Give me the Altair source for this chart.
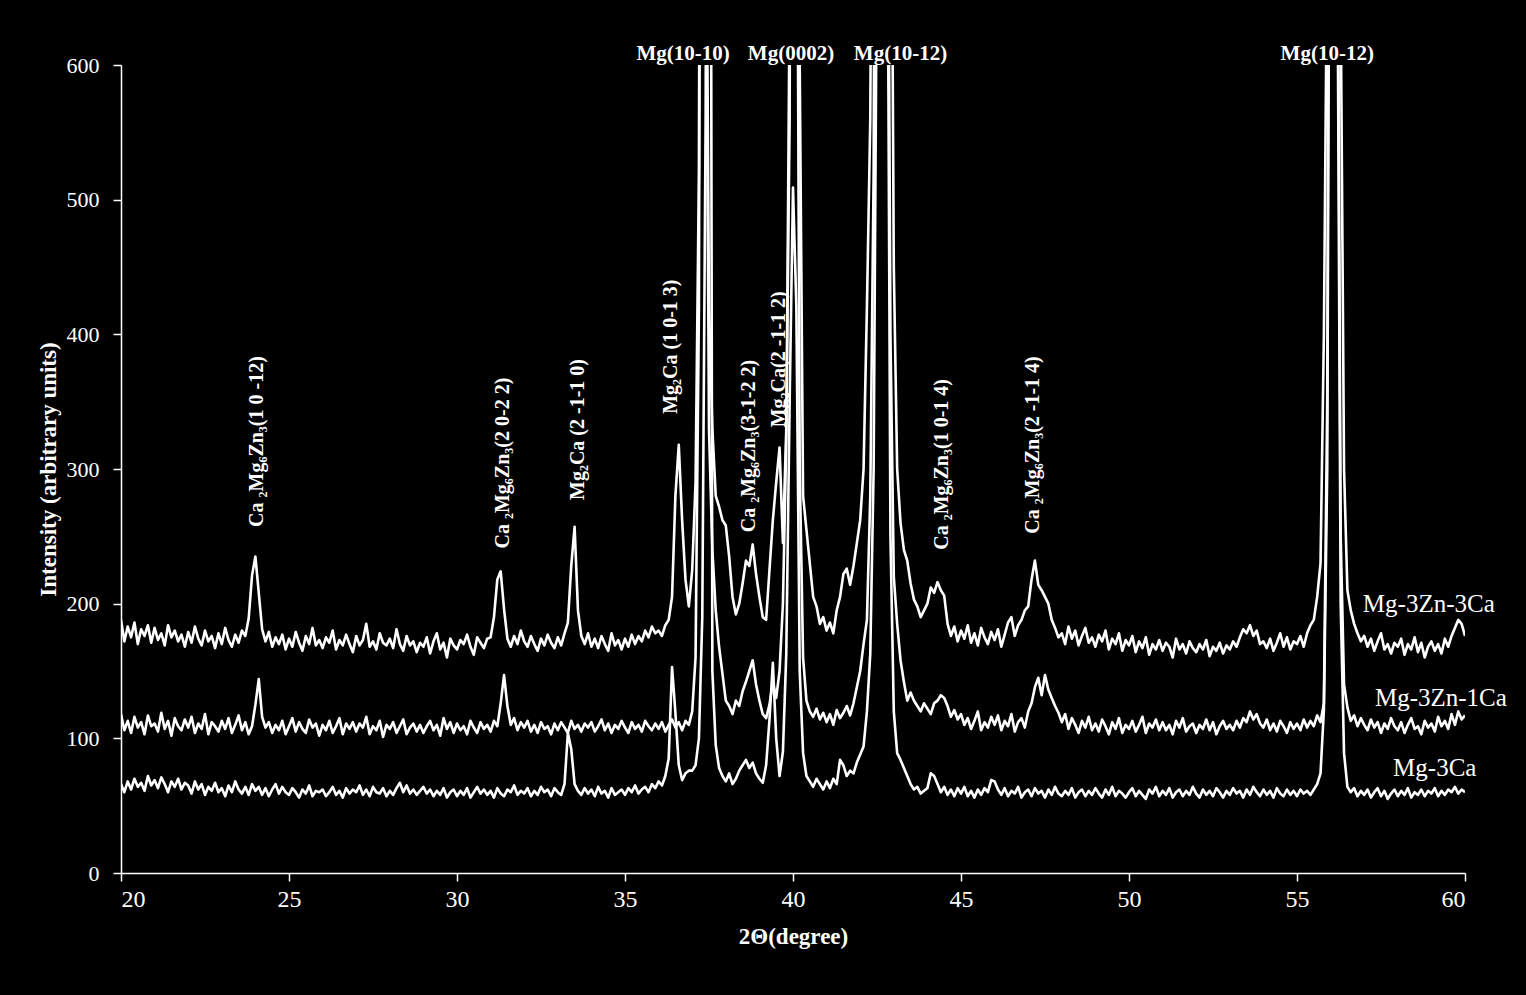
import altair as alt
import pandas as pd

# 2-theta sampling grid of the digitised patterns (degrees)
two_theta_start = 20.0
two_theta_step = 0.1

# Intensity values, one row per degree (x.0 ... x.9), last value at 60.0
mg3zn3ca = [
    188, 172, 183, 175, 186, 170, 181, 176, 184, 171,   # 20
    182, 173, 178, 169, 184, 175, 180, 172, 177, 168,   # 21
    179, 171, 183, 174, 169, 180, 172, 176, 167, 178,   # 22
    170, 182, 173, 168, 177, 171, 180, 176, 189, 221,   # 23
    235, 208, 181, 172, 179, 168, 175, 170, 177, 166,   # 24
    174, 168, 179, 171, 165, 176, 170, 182, 169, 173,   # 25
    167, 175, 171, 180, 166, 173, 169, 177, 170, 164,   # 26
    176, 169, 173, 185, 168, 172, 166, 178, 171, 169,   # 27
    174, 167, 181, 170, 165, 176, 169, 172, 164, 171,   # 28
    168, 175, 163, 172, 178, 166, 171, 160, 174, 169,   # 29
    166, 173, 170, 177, 168, 162, 175, 171, 167, 174,   # 30
    175, 190, 218, 224, 196, 174, 168, 176, 170, 180,   # 31
    172, 168, 176, 170, 165, 174, 169, 177, 171, 167,   # 32
    175, 169, 178, 186, 228, 257, 195, 176, 170, 178,   # 33
    168, 174, 167, 176, 170, 165, 178, 169, 173, 166,   # 34
    174, 168, 177, 170, 176, 172, 180, 175, 183, 178,   # 35
    180, 176, 184, 188, 205, 280, 318, 262, 218, 198,   # 36
    225, 290, 520, 1500, 800, 420, 330, 280, 272, 262,  # 37
    258, 235, 205, 192, 200, 215, 232, 228, 244, 222,   # 38
    205, 190, 188, 225, 262, 290, 316, 245, 330, 560,   # 39
    1500, 1300, 600, 280, 255, 230, 205, 198, 185, 190, # 40
    180, 186, 178, 195, 205, 222, 226, 214, 228, 245,   # 41
    262, 300, 420, 560, 1000, 1800, 2000, 1900, 1500, 900,  # 42
    450, 300, 260, 240, 232, 215, 203, 198, 190, 195,   # 43
    200, 212, 208, 216, 210, 206, 185, 176, 183, 172,   # 44
    180, 174, 184, 171, 178, 169, 182, 175, 170, 179,   # 45
    173, 181, 168, 177, 186, 190, 176, 184, 188, 195,   # 46
    198, 218, 232, 214, 210, 205, 200, 188, 182, 175,   # 47
    178, 170, 183, 174, 180, 169, 176, 182, 171, 175,   # 48
    168, 177, 172, 180, 166, 174, 170, 178, 165, 173,   # 49
    169, 176, 164, 172, 167, 175, 162, 170, 166, 173,   # 50
    165, 171, 168, 160, 174, 166, 170, 163, 172, 167,   # 51
    164, 170, 166, 173, 161, 168, 165, 171, 163, 169,   # 52
    166, 172, 168, 175, 181, 178, 184, 176, 180, 170,   # 53
    172, 167, 174, 165, 171, 178, 168, 175, 166, 172,   # 54
    170, 176, 168, 178, 184, 188, 205, 230, 400, 700,   # 55
    1500, 1800, 1200, 650, 300, 210, 195, 185, 178, 172,  # 56
    176, 168, 174, 165, 172, 178, 166, 170, 163, 171,   # 57
    168, 174, 162, 170, 166, 175, 164, 171, 160, 168,   # 58
    172, 165, 170, 163, 174, 168, 176, 182, 188, 185,   # 59
    176,                                                # 60
]

mg3zn1ca = [
    118, 106, 113, 104, 116, 108, 112, 103, 117, 109,   # 20
    111, 105, 119, 107, 113, 102, 115, 109, 106, 114,   # 21
    108, 116, 104, 111, 107, 118, 103, 112, 109, 105,   # 22
    113, 107, 115, 104, 110, 117, 106, 112, 103, 109,   # 23
    125, 144, 116, 108, 112, 104, 110, 106, 113, 103,   # 24
    109, 115, 105, 112, 107, 104, 114, 108, 111, 102,   # 25
    110, 106, 113, 104, 109, 115, 103, 111, 107, 112,   # 26
    105, 111, 108, 116, 103, 109, 106, 113, 101, 110,   # 27
    107, 112, 104, 109, 114, 103, 108, 111, 105, 110,   # 28
    104, 109, 113, 106, 110, 102, 115, 107, 112, 104,   # 29
    111, 106, 109, 103, 113, 108, 104, 112, 107, 110,   # 30
    105, 113, 109, 126, 147, 124, 110, 115, 106, 112,   # 31
    108, 113, 105, 110, 104, 112, 107, 109, 103, 111,   # 32
    106, 112, 108, 104, 113, 107, 110, 105, 111, 108,   # 33
    112, 105, 109, 114, 106, 111, 104, 110, 107, 113,   # 34
    108, 104, 112, 107, 110, 105, 113, 109, 106, 111,   # 35
    107, 112, 105, 110, 114, 108, 112, 106, 113, 110,   # 36
    120, 160, 420, 1400, 750, 330, 240, 195, 168, 148,  # 37
    128, 124, 118, 128, 124, 135, 142, 150, 158, 140,   # 38
    128, 118, 115, 125, 142, 130, 150, 200, 320, 650,   # 39
    1400, 900, 300, 160, 128, 120, 116, 122, 114, 119,  # 40
    112, 118, 110, 121, 115, 119, 124, 117, 126, 138,   # 41
    150, 170, 188, 280, 520, 1400, 2000, 1800, 900, 400,  # 42
    220, 185, 158, 142, 128, 134, 128, 124, 120, 126,   # 43
    122, 118, 126, 128, 132, 130, 124, 116, 121, 114,   # 44
    118, 110, 115, 107, 113, 120, 106, 112, 108, 116,   # 45
    110, 117, 106, 113, 109, 118, 105, 112, 115, 108,   # 46
    120, 126, 138, 145, 132, 147, 136, 130, 124, 119,   # 47
    112, 118, 107, 115, 110, 104, 113, 108, 116, 106,   # 48
    111, 105, 114, 109, 103, 112, 107, 115, 104, 110,   # 49
    107, 113, 105, 110, 116, 104, 111, 108, 114, 106,   # 50
    112, 106, 110, 103, 113, 108, 115, 105, 109, 111,   # 51
    104, 110, 107, 114, 106, 112, 103, 109, 113, 107,   # 52
    110, 106, 113, 108, 115, 112, 120, 114, 118, 111,   # 53
    108, 114, 106, 111, 105, 113, 109, 104, 112, 107,   # 54
    111, 106, 114, 108, 113, 109, 117, 112, 126, 350,   # 55
    1200, 1500, 800, 250, 140, 123, 113, 117, 109, 115, # 56
    110, 106, 114, 108, 112, 104, 111, 107, 115, 109,   # 57
    106, 112, 104, 110, 115, 107, 109, 103, 113, 108,   # 58
    111, 105, 116, 109, 113, 107, 118, 110, 120, 114,   # 59
    117,                                                # 60
]

mg3ca = [
    66, 60, 68, 62, 70, 64, 67, 61, 72, 65,   # 20
    69, 63, 71, 66, 60, 68, 64, 70, 62, 67,   # 21
    65, 59, 68, 62, 66, 58, 64, 61, 67, 60,   # 22
    63, 57, 65, 60, 68, 62, 59, 64, 58, 66,   # 23
    61, 64, 58, 63, 57, 62, 66, 59, 64, 60,   # 24
    58, 63, 60, 56, 62, 59, 65, 57, 61, 60,   # 25
    62, 57, 60, 64, 58, 61, 56, 63, 59, 62,   # 26
    60, 65, 58, 62, 57, 64, 60, 59, 63, 57,   # 27
    61, 58, 63, 67, 60, 65, 59, 62, 58, 61,   # 28
    64, 59, 62, 57, 61, 58, 63, 56, 60, 62,   # 29
    57, 61, 58, 63, 56, 60, 64, 59, 62, 58,   # 30
    61, 56, 63, 59, 57, 62, 60, 65, 58, 61,   # 31
    59, 63, 57, 61, 58, 64, 60, 62, 57, 63,   # 32
    60, 58, 66, 104, 92, 66, 61, 58, 63, 59,  # 33
    62, 57, 64, 59, 61, 56, 63, 58, 60, 62,   # 34
    58, 63, 60, 65, 59, 62, 64, 60, 66, 63,   # 35
    68, 65, 72, 85, 153, 119, 80, 69, 74, 76, # 36
    76, 80, 100, 190, 560, 1500, 150, 95, 78, 72,  # 37
    68, 74, 66, 70, 76, 80, 84, 78, 82, 74,   # 38
    70, 67, 80, 114, 156, 100, 72, 90, 163, 350,   # 39
    509, 420, 150, 89, 72, 68, 64, 70, 66, 62,     # 40
    68, 63, 70, 66, 84, 80, 72, 76, 74, 82,   # 41
    88, 94, 120, 163, 300, 700, 1500, 1800, 800, 250,  # 42
    120, 89, 84, 78, 72, 66, 62, 64, 59, 61,  # 43
    63, 74, 72, 66, 60, 64, 58, 62, 57, 63,   # 44
    59, 64, 57, 61, 56, 62, 58, 63, 60, 69,   # 45
    68, 62, 58, 63, 57, 61, 59, 64, 56, 60,   # 46
    62, 57, 63, 59, 61, 56, 62, 58, 64, 59,   # 47
    57, 61, 58, 63, 56, 60, 62, 57, 61, 58,   # 48
    63, 59, 56, 62, 58, 64, 57, 61, 59, 56,   # 49
    60, 63, 57, 61, 58, 55, 62, 59, 64, 57,   # 50
    61, 58, 63, 56, 60, 62, 57, 61, 58, 64,   # 51
    59, 56, 62, 58, 61, 57, 63, 60, 56, 61,   # 52
    58, 63, 59, 61, 56, 62, 58, 64, 60, 57,   # 53
    62, 58, 61, 56, 63, 59, 57, 62, 58, 61,   # 54
    57, 62, 59, 61, 58, 62, 66, 74, 121, 300, # 55
    1000, 1500, 700, 200, 89, 64, 60, 63, 57, 61,  # 56
    58, 62, 56, 60, 63, 57, 61, 55, 59, 62,   # 57
    57, 61, 58, 63, 56, 60, 58, 62, 57, 61,   # 58
    59, 63, 57, 61, 58, 62, 60, 64, 59, 62,   # 59
    60,                                       # 60
]

series_names = ["Mg-3Zn-3Ca", "Mg-3Zn-1Ca", "Mg-3Ca"]

# Rotated phase labels
phase_labels = [
    "Ca \u2082Mg\u2086Zn\u2083(1 0 -12)",
    "Ca \u2082Mg\u2086Zn\u2083(2 0-2 2)",
    "Mg\u2082Ca (2 -1-1 0)",
    "Mg\u2082Ca (1 0-1 3)",
    "Ca \u2082Mg\u2086Zn\u2083(3-1-2 2)",
    "Mg\u2082Ca(2 -1-1 2)",
    "Ca \u2082Mg\u2086Zn\u2083(1 0-1 4)",
    "Ca \u2082Mg\u2086Zn\u2083(2 -1-1 4)",
]
phase_label_x = [24.04, 31.37, 33.60, 36.37, 38.69, 39.58, 44.44, 47.14]
phase_label_y = [257, 241, 277, 341, 253, 331, 240, 252]

# Mg reflections labelled above the plot
mg_labels = ["Mg(10-10)", "Mg(0002)", "Mg(10-12)", "Mg(10-12)"]
mg_label_x = [36.73, 39.94, 43.20, 55.90]
mg_label_y = [608, 608, 608, 608]

# Sample names next to the curves
sample_label_x = [56.96, 57.32, 57.86]
sample_label_y = [200, 130, 78]

x_ticks = [20, 25, 30, 35, 40, 45, 50, 55, 60]
y_ticks = [0, 100, 200, 300, 400, 500, 600]

rows = []
for name, vals in zip(series_names, [mg3zn3ca, mg3zn1ca, mg3ca]):
    for i, v in enumerate(vals):
        rows.append({"two_theta": round(two_theta_start + i * two_theta_step, 2),
                     "intensity": v, "sample": name})
df = pd.DataFrame(rows)

phase_df = pd.DataFrame({"two_theta": phase_label_x, "intensity": phase_label_y, "label": phase_labels})
mg_df = pd.DataFrame({"two_theta": mg_label_x, "intensity": mg_label_y, "label": mg_labels})
sample_df = pd.DataFrame({"two_theta": sample_label_x, "intensity": sample_label_y, "label": series_names})

FONT = "Liberation Serif"
x_scale = alt.Scale(domain=[20, 60], nice=False, zero=False)
y_scale = alt.Scale(domain=[0, 600], nice=False)

common_axis = dict(grid=False, domainColor="white", domainWidth=1.5, tickColor="white", tickWidth=1.5,
                   labelColor="white", labelFont=FONT, titleColor="white", titleFont=FONT,
                   titleFontWeight="bold", tickSize=8)

lines = alt.Chart(df).mark_line(color="white", strokeWidth=2.6, clip=True, strokeJoin="round").encode(
    x=alt.X("two_theta:Q", scale=x_scale,
            axis=alt.Axis(values=x_ticks, title="2\u0398(degree)",
                          labelFontSize=24, labelPadding=6,
                          titleFontSize=23, titlePadding=14, **common_axis)),
    y=alt.Y("intensity:Q", scale=y_scale,
            axis=alt.Axis(values=y_ticks, title="Intensity (arbitrary units)",
                          labelFontSize=22, labelPadding=14,
                          titleFontSize=23, titlePadding=6, **common_axis)),
    detail="sample:N",
)

phase_text = alt.Chart(phase_df).mark_text(
    angle=270, align="left", baseline="middle", color="white",
    font=FONT, fontSize=20, fontWeight="bold",
).encode(x="two_theta:Q", y="intensity:Q", text="label:N")

mg_text = alt.Chart(mg_df).mark_text(
    align="center", baseline="middle", color="white",
    font=FONT, fontSize=21, fontWeight="bold",
).encode(x="two_theta:Q", y="intensity:Q", text="label:N")

sample_text = alt.Chart(sample_df).mark_text(
    align="left", baseline="middle", color="white",
    font=FONT, fontSize=25,
).encode(x="two_theta:Q", y="intensity:Q", text="label:N")

chart = alt.layer(lines, phase_text, mg_text, sample_text).properties(
    width=1344, height=808,
    background="black",
    autosize=alt.AutoSizeParams(type="none"),
    padding={"left": 121, "top": 65, "right": 61, "bottom": 122},
).configure_view(stroke=None).configure_axis(
    labelFont=FONT, titleFont=FONT,
)

chart.save("out.html", embed_options={"renderer": "svg", "actions": False})
